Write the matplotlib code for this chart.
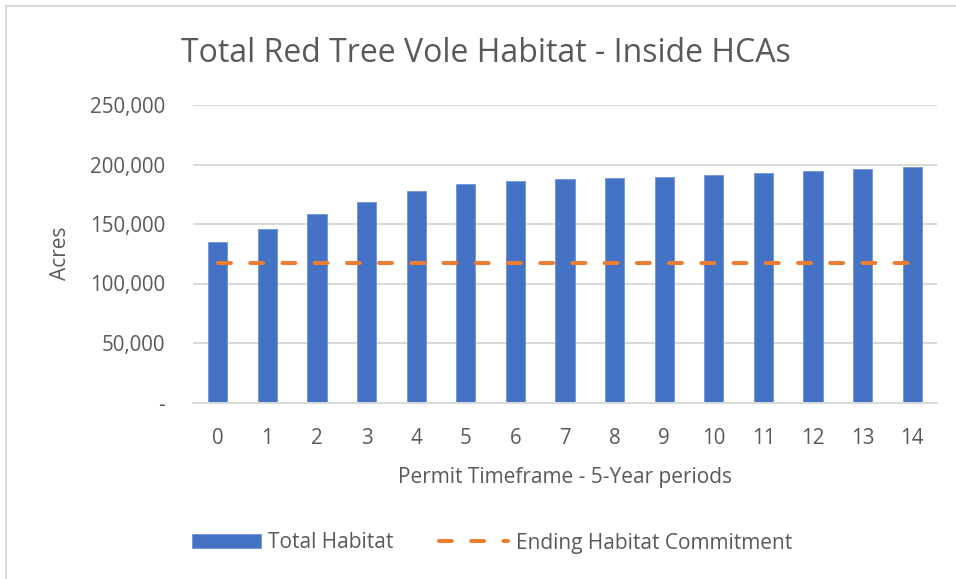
import matplotlib
matplotlib.use("Agg")
import matplotlib.pyplot as plt
from matplotlib.patches import Rectangle
from matplotlib.legend_handler import HandlerPatch
from matplotlib.ticker import FuncFormatter

periods = list(range(15))
total_habitat = [134800, 146000, 158600, 168400, 178100, 184000, 186500, 187900,
                 189000, 189900, 191300, 192700, 194600, 196300, 198000]
ending_commitment = [117200] * 15
y_ticks = [0, 50000, 100000, 150000, 200000, 250000]

title = "Total Red Tree Vole Habitat - Inside HCAs"
x_label = "Permit Timeframe - 5-Year periods"
y_label = "Acres"

FONT = "Open Sans"
GRAY = "#595959"
GRID = "#d9d9d9"
BLUE = "#4472C4"
ORANGE = "#ED7D31"

plt.rcParams["font.family"] = [FONT, "DejaVu Sans"]

W, H = 956, 579
fig = plt.figure(figsize=(W / 100, H / 100), dpi=100)
fig.patch.set_facecolor("white")

# chart border (left and top visible)
fig.add_artist(Rectangle((6 / W, -0.1), 1.2, (H - 6) / H + 0.1, transform=fig.transFigure,
                         fill=False, edgecolor=GRID, linewidth=1.5))

ax = fig.add_axes([193 / W, (H - 402.5) / H, (937 - 193) / W, (402.5 - 105) / H])
ax.set_facecolor("none")

bars = ax.bar(periods, total_habitat, width=0.39, color=BLUE, edgecolor="#6f93d6",
              linewidth=0.6, label="Total Habitat", zorder=2)
line, = ax.plot(periods, ending_commitment, color=ORANGE, linewidth=2.9,
                dashes=(3.2, 4.8), dash_capstyle="round", solid_capstyle="round",
                label="Ending Habitat Commitment", zorder=3)

ax.set_xlim(-0.5, 14.5)
ax.set_ylim(0, 250000)
ax.set_yticks(y_ticks)
ax.yaxis.set_major_formatter(FuncFormatter(lambda v, p: "-" if v == 0 else f"{int(v):,}"))
ax.set_xticks(periods)
ax.set_xticklabels([str(p) for p in periods])

ax.grid(axis="y", color=GRID, linewidth=1.4, zorder=0)
ax.set_axisbelow(True)
for s in ["top", "right", "left"]:
    ax.spines[s].set_visible(False)
ax.spines["bottom"].set_color(GRID)
ax.spines["bottom"].set_linewidth(1.4)

ax.tick_params(axis="both", length=0, labelsize=14.8, labelcolor=GRAY)
ax.tick_params(axis="y", pad=20)
ax.tick_params(axis="x", pad=18)

ax.set_xlabel(x_label, fontsize=15, color=GRAY, labelpad=13)
ax.set_ylabel(y_label, fontsize=15, color=GRAY, labelpad=14)

fig.text(486 / W, 1 - 53 / H, title, ha="center", va="center", fontsize=23, color=GRAY)


def make_rect(legend, orig_handle, xdescent, ydescent, width, height, fontsize):
    return Rectangle((xdescent, ydescent), width, height)


leg = fig.legend(handles=[bars, line], labels=["Total Habitat", "Ending Habitat Commitment"],
                 loc="center", bbox_to_anchor=(492 / W, 1 - 543 / H), ncol=2, frameon=False,
                 fontsize=15, handlelength=3.3, handleheight=0.65, handletextpad=0.35,
                 columnspacing=2.2, labelcolor=GRAY,
                 handler_map={type(bars.patches[0]): HandlerPatch(patch_func=make_rect)})

fig.savefig("out.png", dpi=100, facecolor="white")
